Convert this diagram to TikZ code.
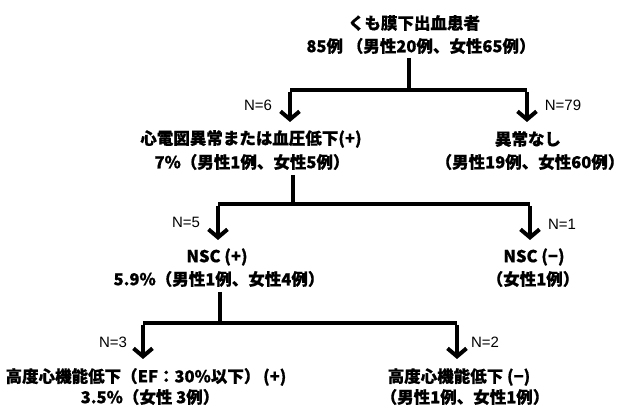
\documentclass[tikz,border=0pt]{standalone}
\usepackage{fontspec}
\setmainfont{Liberation Sans}
\newfontfamily\jp{Noto Sans CJK JP}[BoldFeatures={FakeBold=0.6}]
\usetikzlibrary{arrows.meta}
\begin{document}
\begin{tikzpicture}[x=1pt,y=-1pt,
  lbl/.style={inner sep=0pt,anchor=center,font=\jp\bfseries\fontsize{16.5}{16.5}\selectfont},
  nlbl/.style={inner sep=0pt,anchor=center,font=\fontsize{15}{15}\selectfont},
  link/.style={line width=4pt},
  arr/.style={line width=4pt,-{Straight Barb[sharp,length=8pt,width=19pt]}}]
\useasboundingbox (0,0) rectangle (625,406);
% root
\node[lbl] (t1) at (414,23) {くも膜下出血患者};
\node[lbl] (t2) at (421,46) {85例 （男性20例、女性65例）};
\coordinate (s0) at (409,58);
\coordinate (j0) at (409,90);
\coordinate (j0l) at (290,90);
\coordinate (j0r) at (527,90);
\coordinate (e0l) at (290,122);
\coordinate (e0r) at (527,122);
\draw[link] (s0) -- (j0);
\draw[link] (j0l) -- (j0r);
\draw[arr] ([yshift=-2pt]j0l) -- (e0l);
\draw[arr] ([yshift=-2pt]j0r) -- (e0r);
\node[nlbl] (n6) at (258,105) {N=6};
\node[nlbl] (n79) at (563,105) {N=79};
% level 2
\node[lbl] (a1) at (251,139) {心電図異常または血圧低下(+)};
\node[lbl] (a2) at (252,162) {7\%（男性1例、女性5例）};
\node[lbl] (b1) at (528,139) {異常なし};
\node[lbl] (b2) at (530,162) {（男性19例、女性60例）};
\coordinate (s1) at (293,175);
\coordinate (j1) at (293,204);
\coordinate (j1l) at (218,204);
\coordinate (j1r) at (530,204);
\coordinate (e1l) at (218,240);
\coordinate (e1r) at (530,240);
\draw[link] (s1) -- (j1);
\draw[link] (j1l) -- (j1r);
\draw[arr] ([yshift=-2pt]j1l) -- (e1l);
\draw[arr] ([yshift=-2pt]j1r) -- (e1r);
\node[nlbl] (n5) at (186,222) {N=5};
\node[nlbl] (n1) at (562,224) {N=1};
% level 3
\node[lbl] (c1) at (217,257) {NSC (+)};
\node[lbl] (c2) at (219,279) {5.9\%（男性1例、女性4例）};
\node[lbl] (d1) at (534,257) {NSC (−)};
\node[lbl] (d2) at (533,279) {（女性1例）};
\coordinate (s2) at (220,292);
\coordinate (j2) at (220,323);
\coordinate (j2l) at (143,323);
\coordinate (j2r) at (457,323);
\coordinate (e2l) at (143,359);
\coordinate (e2r) at (457,359);
\draw[link] (s2) -- (j2);
\draw[link] (j2l) -- (j2r);
\draw[arr] ([yshift=-2pt]j2l) -- (e2l);
\draw[arr] ([yshift=-2pt]j2r) -- (e2r);
\node[nlbl] (n3) at (113,342) {N=3};
\node[nlbl] (n2) at (485,342) {N=2};
% level 4
\node[lbl] (f1) at (146,377) {高度心機能低下（EF：30\%以下）\,(+)};
\node[lbl] (f2) at (150,397) {3.5\%（女性 3例）};
\node[lbl] (g1) at (459,377) {高度心機能低下 (−)};
\node[lbl] (g2) at (465,397) {（男性1例、女性1例）};
\end{tikzpicture}
\end{document}
